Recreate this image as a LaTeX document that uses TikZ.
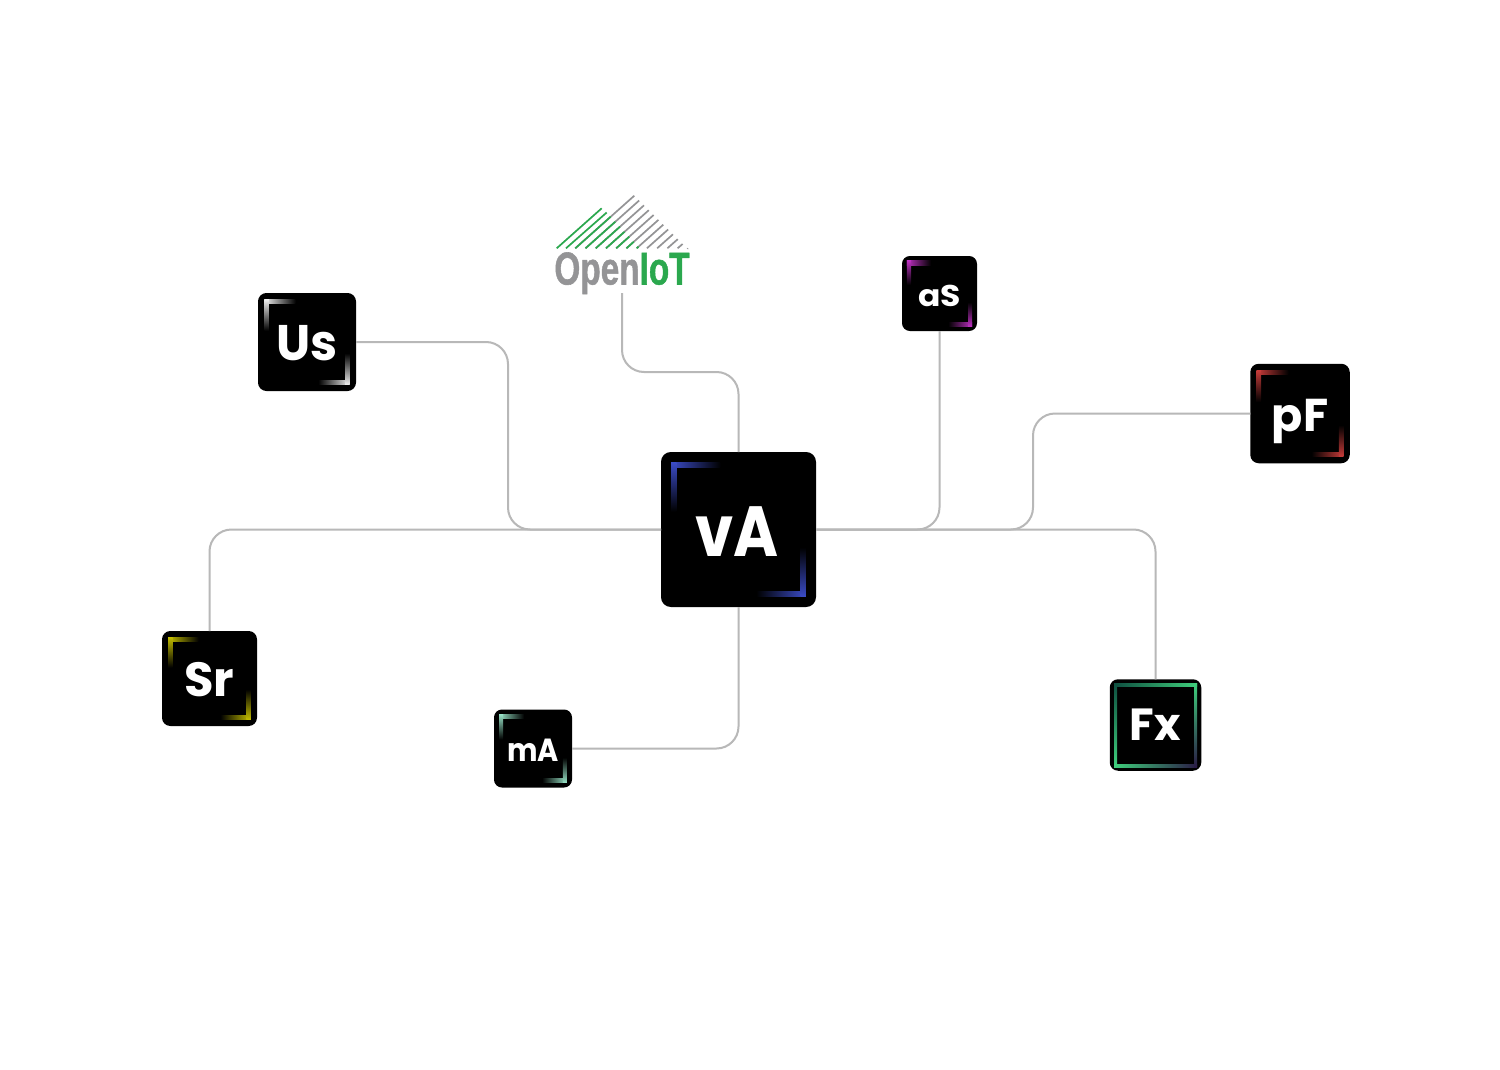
\documentclass[tikz,border=0pt]{standalone}
\usepackage{fontspec}
\setmainfont{Poppins}
\newfontfamily\logofont[FakeBold=1.2]{Liberation Sans}
\definecolor{wire}{HTML}{B8B8B8}
\definecolor{logogray}{HTML}{949496}
\definecolor{logogreen}{HTML}{2BA84E}
\definecolor{cblue}{HTML}{3B4CC8}
\definecolor{cwhite}{HTML}{EFEFEF}
\definecolor{cpurple}{HTML}{BC30C0}
\definecolor{cred}{HTML}{C83C3A}
\definecolor{cyellow}{HTML}{C4BE00}
\definecolor{cmint}{HTML}{96E0C4}
\definecolor{fxgreen}{HTML}{3FCF7C}
\definecolor{fxteal}{HTML}{0E4F40}
\definecolor{fxpurple}{HTML}{2A1B45}
\tikzset{
  wirepath/.style={draw=wire,line width=2pt,rounded corners=22pt},
  iconbox/.style={fill=black,draw=none,inner sep=0pt,outer sep=0pt,text=white,font=\bfseries},
  logobar/.style={line width=1.7pt}
}
\newcommand{\iconnode}[8]{% name, cx, cy, size, text, font size, x scale, baseline drop
  \pgfmathsetmacro{\rad}{6+#4*0.025}
  \node[iconbox,minimum size=#4pt,rounded corners=\rad pt] (#1) at (#2,#3)
    {\raisebox{-#8pt}[0pt][0pt]{\scalebox{#7}[1]{\fontsize{#6pt}{#6pt}\selectfont #5}}};
}
\newcommand{\brackets}[4]{% cx, cy, size, colour
  \pgfmathsetmacro{\ax}{#1-#3*0.435}
  \pgfmathsetmacro{\ay}{#2-#3*0.435}
  \pgfmathsetmacro{\bx}{#1+#3*0.435}
  \pgfmathsetmacro{\by}{#2+#3*0.435}
  \pgfmathsetmacro{\th}{3+#3*0.015}
  \pgfmathsetmacro{\ln}{#3*0.32}
  \shade[left color=#4,right color=black] (\ax,\ay) rectangle ({\ax+\ln},{\ay+\th});
  \shade[top color=#4,bottom color=black] (\ax,\ay) rectangle ({\ax+\th},{\ay+\ln});
  \shade[right color=#4,left color=black] (\bx,\by) rectangle ({\bx-\ln},{\by-\th});
  \shade[bottom color=#4,top color=black] (\bx,\by) rectangle ({\bx-\th},{\by-\ln});
}
\begin{document}
\begin{tikzpicture}[x=1pt,y=-1pt]
\useasboundingbox (0,0) rectangle (1500,1070);
\fill[white] (0,0) rectangle (1500,1070);
% logo hatch
\foreach \k in {0,...,11}{
  \pgfmathsetmacro{\bx}{575.3+10.23*\k}
  \pgfmathsetmacro{\tx}{634.3+4.83*\k}
  \pgfmathsetmacro{\ty}{195.7+4.83*\k}
  \draw[logobar,logogray] (\bx,248.3) -- (\tx,\ty);
}
\foreach \k in {0,...,6}{
  \pgfmathsetmacro{\bx}{575.3+10.23*\k}
  \pgfmathsetmacro{\my}{216.7+5*\k}
  \pgfmathsetmacro{\mx}{\bx+1.12*(248.3-\my)}
  \draw[logobar,logogreen] (\bx,248.3) -- (\mx,\my);
}
\draw[logobar,logogreen] (556.7,248.3) -- (601.7,208.3);
\draw[logobar,logogreen] (566,248.3) -- (606.7,212.5);
% logo text
\node[inner sep=0pt,outer sep=0pt,anchor=base,xscale=0.725,transform shape] (logo) at (622,284.5)
  {\logofont\bfseries\fontsize{46pt}{46pt}\selectfont\textcolor{logogray}{Open}\textcolor{logogreen}{IoT}};
\coordinate (logobottom) at (622,293);
% icons
\iconnode{va}{738.5}{529.5}{155}{vA\kern3pt}{71}{0.86}{26.5}
\iconnode{us}{307}{342}{98}{Us}{50}{0.97}{18}
\iconnode{as}{939.5}{293.5}{75}{aS}{30}{1.1}{13}
\iconnode{pf}{1300}{413.5}{99.5}{pF}{46}{1}{17.5}
\iconnode{sr}{209.5}{678.5}{95}{Sr}{48}{1}{17.5}
\iconnode{ma}{533}{748.5}{78}{mA}{32}{0.9}{12.5}
\iconnode{fx}{1155.5}{725}{91.5}{Fx}{45}{1}{15.7}
% brackets
\brackets{738.5}{529.5}{155}{cblue}
\brackets{307}{342}{98}{cwhite}
\brackets{939.5}{293.5}{75}{cpurple}
\brackets{1300}{413.5}{99.5}{cred}
\brackets{209.5}{678.5}{95}{cyellow}
\brackets{533}{748.5}{78}{cmint}
% Fx frame
\shade[left color=fxteal,right color=fxgreen] (1114,683) rectangle (1197,686);
\shade[top color=fxteal,bottom color=fxgreen] (1114,683) rectangle (1117,767);
\shade[left color=fxgreen,right color=fxpurple] (1114,764) rectangle (1197,767);
\shade[top color=fxgreen,bottom color=fxpurple] (1194,683) rectangle (1197,767);
% connectors
\draw[wirepath] (us.east) -- (508,342) -- (508,529.5) -- (va.west);
\draw[wirepath] (logobottom) -- (622,372) -- (738.5,372) -- (va.north);
\draw[wirepath] (as.south) -- (939.5,529.5) -- (va.east);
\draw[wirepath] (pf.west) -- (1033,413.5) -- (1033,529.5) -- (va.east);
\draw[wirepath] (fx.north) -- (1155.5,529.5) -- (va.east);
\draw[wirepath] (sr.north) -- (209.5,529.5) -- (va.west);
\draw[wirepath] (ma.east) -- (738.5,748.5) -- (va.south);
\end{tikzpicture}
\end{document}
